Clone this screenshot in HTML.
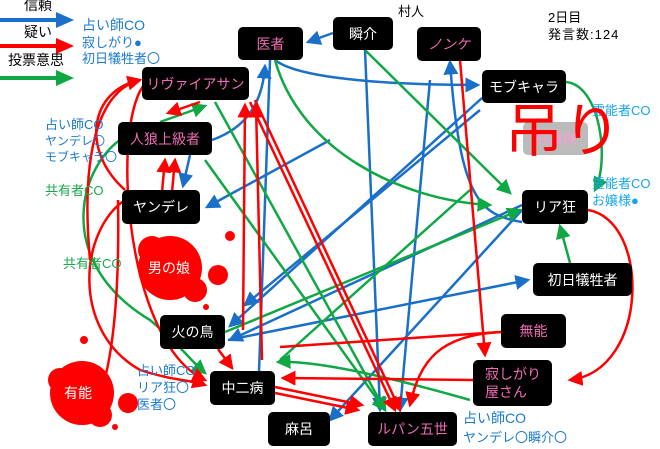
<!DOCTYPE html>
<html><head><meta charset="utf-8"><style>
body{margin:0;width:660px;height:449px;overflow:hidden;background:#fff;font-family:"Liberation Sans","Noto Sans CJK JP",sans-serif;}
.n{position:absolute;background:#000;border-radius:5px;color:#fff;font-size:14px;display:flex;align-items:center;justify-content:center;}
.p{color:#f06cb4;}
.t{position:absolute;font-size:13px;line-height:16px;white-space:nowrap;}
.b{color:#1a7ad0}.g{color:#1aa84a}.c{color:#16a6e8}
</style></head><body>
<svg width="660" height="449" style="position:absolute;left:0;top:0">
<defs>
<marker id="mb" markerWidth="6" markerHeight="6" refX="5" refY="3" orient="auto" markerUnits="strokeWidth"><path d="M0,0L6,3L0,6z" fill="#1a70c8"/></marker>
<marker id="mr" markerWidth="6" markerHeight="6" refX="5" refY="3" orient="auto" markerUnits="strokeWidth"><path d="M0,0L6,3L0,6z" fill="#f00"/></marker>
<marker id="mg" markerWidth="6" markerHeight="6" refX="5" refY="3" orient="auto" markerUnits="strokeWidth"><path d="M0,0L6,3L0,6z" fill="#10a844"/></marker>
</defs>
<g fill="#f00">
<circle cx="170" cy="268" r="32"/><circle cx="152" cy="250" r="14"/><circle cx="195" cy="290" r="12"/><circle cx="218" cy="275" r="10"/><circle cx="230" cy="236" r="5"/><circle cx="206" cy="307" r="3"/>
<circle cx="82" cy="393" r="32"/><circle cx="60" cy="380" r="12"/><circle cx="100" cy="415" r="12"/><circle cx="128" cy="403" r="10"/><circle cx="84" cy="340" r="4"/><circle cx="115" cy="427" r="3"/>
</g>
<!-- legend -->
<path d="M0,20H58" stroke="#1a70c8" stroke-width="4"/><path d="M56,12L74,20L56,28z" fill="#1a70c8"/>
<path d="M0,46H58" stroke="#f00" stroke-width="4"/><path d="M56,38L74,46L56,54z" fill="#f00"/>
<path d="M0,78H58" stroke="#10a844" stroke-width="4"/><path d="M56,70L74,78L56,86z" fill="#10a844"/>
<g fill="none" stroke-width="2.5">
<g stroke="#1a70c8">
<path d="M333,33L308,42" marker-end="url(#mb)"/>
<path d="M365,50L380,410" marker-end="url(#mb)"/>
<path d="M270,60L258,400" marker-end="url(#mb)"/>
<path d="M275,60C300,80 400,85 478,85" marker-end="url(#mb)"/>
<path d="M482,98L230,326" marker-end="url(#mb)"/>
<path d="M212,140C240,130 262,110 265,66" marker-end="url(#mb)"/>
<path d="M190,155L183,186" marker-end="url(#mb)"/>
<path d="M330,140L207,207" marker-end="url(#mb)"/>
<path d="M480,110L245,305" marker-end="url(#mb)"/>
<path d="M522,205L230,340" marker-end="url(#mb)"/>
<path d="M522,210L330,420" marker-end="url(#mb)"/>
<path d="M228,340L528,280" marker-end="url(#mb)"/>
<path d="M522,222C480,215 460,200 450,62" marker-end="url(#mb)"/>
<path d="M430,80L400,410" marker-end="url(#mb)"/>
</g>
<g stroke="#10a844">
<path d="M365,50L510,193" marker-end="url(#mg)"/>
<path d="M275,60C300,150 400,200 490,205" marker-end="url(#mg)"/>
<path d="M566,82C600,85 610,160 595,190" marker-end="url(#mg)"/>
<path d="M128,135C80,160 50,260 150,320 C180,345 190,360 205,373" marker-end="url(#mg)"/>
<path d="M160,122L205,106" marker-end="url(#mg)"/>
<path d="M215,102L385,410" marker-end="url(#mg)"/>
<path d="M205,160L385,410" marker-end="url(#mg)"/>
<path d="M225,332L520,210" marker-end="url(#mg)"/>
<path d="M570,263L560,226" marker-end="url(#mg)"/>
<path d="M470,190L280,360" />
<path d="M470,400C400,380 320,360 278,362" marker-end="url(#mg)"/>
</g>
<g stroke="#f00">
<path d="M140,80C90,90 80,150 125,190" />
<path d="M125,200C80,230 70,330 140,370 C170,380 190,380 205,385" marker-end="url(#mr)"/>
<path d="M90,260C80,150 100,90 140,80" marker-end="url(#mr)"/>
<path d="M150,80C110,100 120,340 205,380" marker-end="url(#mr)"/>
<path d="M200,102L168,113" marker-end="url(#mr)"/>
<path d="M162,192L165,160" marker-end="url(#mr)"/>
<path d="M172,192L175,160" marker-end="url(#mr)"/>
<path d="M80,420C110,410 120,310 118,200" />
<path d="M243,330L245,105" marker-end="url(#mr)"/>
<path d="M262,360L256,105" marker-end="url(#mr)"/>
<path d="M250,102L395,410" marker-end="url(#mr)"/>
<path d="M255,100L400,410" marker-end="url(#mr)"/>
<path d="M460,60L485,355" marker-end="url(#mr)"/>
<path d="M588,210C650,220 650,370 570,380" marker-end="url(#mr)"/>
<path d="M501,332L280,347" />
<path d="M501,332C440,335 420,360 410,405" marker-end="url(#mr)"/>
<path d="M473,380L283,378" marker-end="url(#mr)"/>
<path d="M218,349L232,368" marker-end="url(#mr)"/>
<path d="M275,387L362,405" marker-end="url(#mr)"/>
<path d="M275,393L358,410" marker-end="url(#mr)"/>
</g>
</g>
</svg>
<div class="t" style="left:24px;top:-3px;font-size:14px">信頼</div>
<div class="t" style="left:24px;top:24px;font-size:14px">疑い</div>
<div class="t" style="left:8px;top:52px;font-size:14px">投票意思</div>
<div class="t b" style="left:82px;top:17px;font-size:14px">占い師CO</div>
<div class="t b" style="left:82px;top:35px">寂しがり●</div>
<div class="t b" style="left:82px;top:51px">初日犠牲者〇</div>
<div class="t b" style="left:45px;top:117px">占い師CO</div>
<div class="t b" style="left:45px;top:133px;font-size:12px">ヤンデレ〇</div>
<div class="t b" style="left:45px;top:149px;font-size:12px">モブキャラ〇</div>
<div class="t g" style="left:45px;top:183px">共有者CO</div>
<div class="t g" style="left:63px;top:256px">共有者CO</div>
<div class="t b" style="left:137px;top:363px">占い師CO</div>
<div class="t b" style="left:137px;top:380px">リア狂〇</div>
<div class="t b" style="left:137px;top:397px">医者〇</div>
<div class="t b" style="left:463px;top:410px;font-size:14px">占い師CO</div>
<div class="t b" style="left:463px;top:430px">ヤンデレ〇瞬介〇</div>
<div class="t c" style="left:592px;top:103px">霊能者CO</div>
<div class="t c" style="left:592px;top:176px">霊能者CO</div>
<div class="t c" style="left:592px;top:193px">お嬢様●</div>
<div class="t" style="left:398px;top:4px">村人</div>
<div class="t" style="left:548px;top:10px">2日目</div>
<div class="t" style="left:548px;top:27px;letter-spacing:1px">発言数:124</div>
<div class="n" style="left:523px;top:122px;width:65px;height:33px;background:#bbb;color:#f7a0d0">お嬢様</div>
<div class="t" style="left:505px;top:100px;font-size:58px;line-height:64px;color:#f00">吊り</div>
<div class="t" style="left:148px;top:260px;color:#fff;font-size:14px">男の娘</div>
<div class="t" style="left:64px;top:385px;color:#fff;font-size:14px">有能</div>
<div class="n p" style="left:238px;top:27px;width:65px;height:33px">医者</div>
<div class="n" style="left:333px;top:17px;width:60px;height:33px">瞬介</div>
<div class="n p" style="left:417px;top:27px;width:64px;height:34px;font-style:italic">ノンケ</div>
<div class="n" style="left:482px;top:70px;width:84px;height:33px">モブキャラ</div>
<div class="n" style="left:522px;top:190px;width:66px;height:34px">リア狂</div>
<div class="n" style="left:533px;top:263px;width:99px;height:33px">初日犠牲者</div>
<div class="n p" style="left:501px;top:314px;width:65px;height:34px">無能</div>
<div class="n p" style="left:473px;top:360px;width:79px;height:46px;line-height:18px;justify-content:flex-start;padding-left:12px;box-sizing:border-box">寂しがり<br>屋さん</div>
<div class="n p" style="left:368px;top:412px;width:89px;height:34px">ルパン五世</div>
<div class="n" style="left:268px;top:412px;width:62px;height:34px">麻呂</div>
<div class="n" style="left:210px;top:371px;width:65px;height:34px">中二病</div>
<div class="n" style="left:160px;top:315px;width:65px;height:34px">火の鳥</div>
<div class="n" style="left:122px;top:190px;width:78px;height:34px">ヤンデレ</div>
<div class="n p" style="left:118px;top:122px;width:94px;height:33px">人狼上級者</div>
<div class="n p" style="left:142px;top:67px;width:107px;height:33px">リヴァイアサン</div>
</body></html>
